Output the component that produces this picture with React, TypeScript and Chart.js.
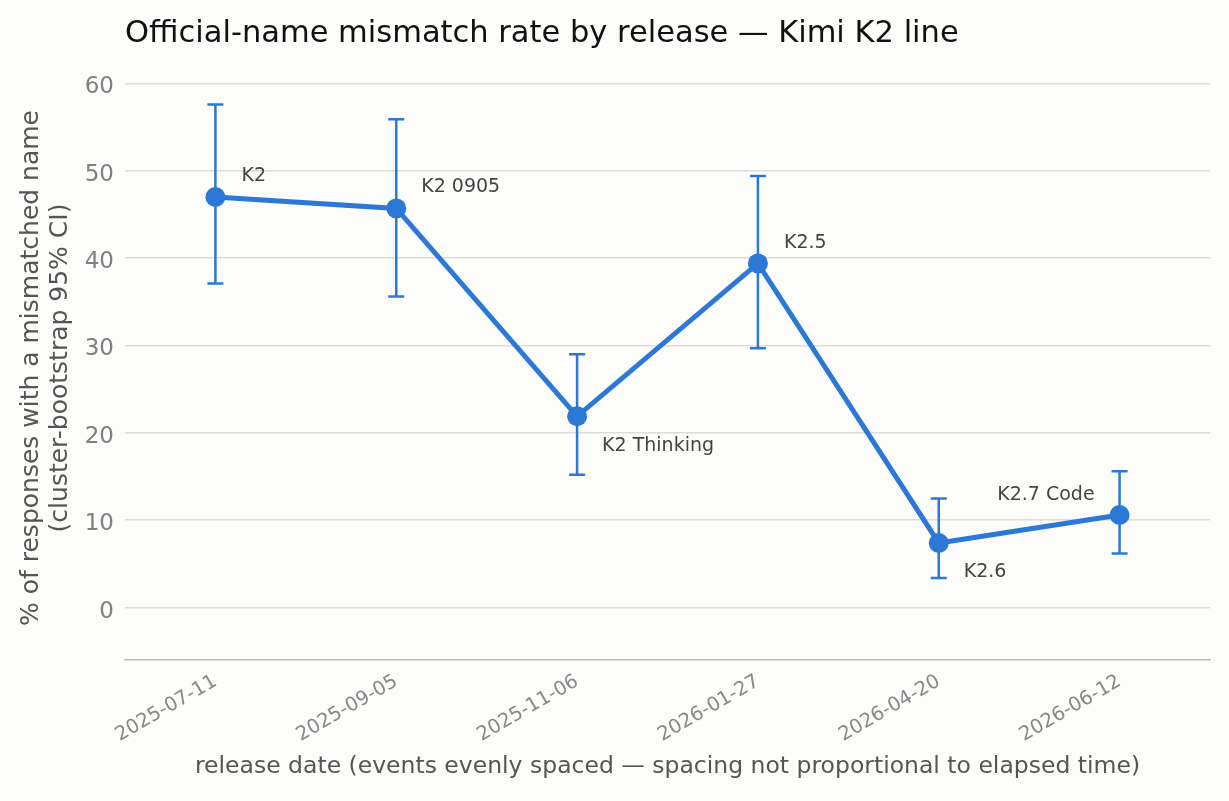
import React, { useEffect, useRef } from 'react';
import Chart from 'chart.js/auto';

// release events, evenly spaced on the x axis
const releaseDates = ['2025-07-11', '2025-09-05', '2025-11-06', '2026-01-27', '2026-04-20', '2026-06-12'];
const modelNames = ['K2', 'K2 0905', 'K2 Thinking', 'K2.5', 'K2.6', 'K2.7 Code'];
// % of responses with a mismatched name, with cluster-bootstrap 95% CI
const mismatchRate = [47.0, 45.7, 21.9, 39.4, 7.4, 10.6];
const ciLow = [37.1, 35.6, 15.2, 29.7, 3.4, 6.2];
const ciHigh = [57.6, 55.9, 29.0, 49.4, 12.5, 15.6];
const yTicks = [0, 10, 20, 30, 40, 50, 60];
const yTitleLines = ['% of responses with a mismatched name', '(cluster-bootstrap 95% CI)'];

const LINE_COLOR = '#2b78d6';
const FONT = 'DejaVu Sans';

// where each point's label sits relative to its marker (px)
const labelOffsets = [
  { dx: 26, dy: -21, align: 'left' },
  { dx: 25, dy: -21, align: 'left' },
  { dx: 25, dy: 30, align: 'left' },
  { dx: 26, dy: -20, align: 'left' },
  { dx: 25, dy: 29, align: 'left' },
  { dx: -25, dy: -20, align: 'right' },
];

const errorBars = {
  id: 'errorBars',
  beforeDatasetsDraw(chart: any) {
    const { ctx, scales } = chart;
    const x = scales.x;
    const y = scales.y;
    ctx.save();
    ctx.strokeStyle = LINE_COLOR;
    ctx.lineWidth = 2.5;
    releaseDates.forEach((_, i) => {
      const px = x.getPixelForValue(i);
      const top = y.getPixelForValue(ciHigh[i]);
      const bot = y.getPixelForValue(ciLow[i]);
      ctx.beginPath();
      ctx.moveTo(px, top);
      ctx.lineTo(px, bot);
      ctx.moveTo(px - 8, top);
      ctx.lineTo(px + 8, top);
      ctx.moveTo(px - 8, bot);
      ctx.lineTo(px + 8, bot);
      ctx.stroke();
    });
    ctx.restore();
  },
};

const pointLabels = {
  id: 'pointLabels',
  afterDatasetsDraw(chart: any) {
    const { ctx, scales } = chart;
    ctx.save();
    ctx.font = `19px "${FONT}"`;
    ctx.fillStyle = '#444444';
    ctx.textBaseline = 'middle';
    modelNames.forEach((name, i) => {
      const off = labelOffsets[i];
      const px = scales.x.getPixelForValue(i);
      const py = scales.y.getPixelForValue(mismatchRate[i]);
      ctx.textAlign = off.align;
      ctx.fillText(name, px + off.dx, py + off.dy);
    });
    ctx.restore();
  },
};

// chart title aligned to the plot's left edge, and the two-line y-axis title
const titles = {
  id: 'titles',
  afterDraw(chart: any) {
    const { ctx, chartArea } = chart;
    ctx.save();
    ctx.font = `30.5px "${FONT}"`;
    ctx.fillStyle = '#111111';
    ctx.textBaseline = 'middle';
    ctx.textAlign = 'left';
    ctx.fillText('Official-name mismatch rate by release — Kimi K2 line', chartArea.left, 34);

    ctx.translate(0, 368);
    ctx.rotate(-Math.PI / 2);
    ctx.font = `25px "${FONT}"`;
    ctx.fillStyle = '#555555';
    ctx.textAlign = 'center';
    ctx.textBaseline = 'alphabetic';
    yTitleLines.forEach((line, i) => {
      ctx.fillText(line, 0, 38 + i * 29);
    });
    ctx.restore();
  },
};

const App: React.FC = () => {
  const canvasRef = useRef<HTMLCanvasElement>(null);
  const chartInstance = useRef<Chart | null>(null);

  useEffect(() => {
    if (!canvasRef.current) return;
    if (chartInstance.current) {
      chartInstance.current.destroy();
    }

    chartInstance.current = new Chart(canvasRef.current, {
      type: 'line',
      data: {
        labels: releaseDates,
        datasets: [
          {
            label: 'mismatch rate',
            data: mismatchRate,
            borderColor: LINE_COLOR,
            backgroundColor: LINE_COLOR,
            borderWidth: 5,
            pointRadius: 10,
            pointHoverRadius: 10,
            pointBorderWidth: 0,
            tension: 0,
            fill: false,
          },
        ],
      },
      options: {
        animation: false,
        responsive: true,
        maintainAspectRatio: false,
        layout: { padding: { top: 66, right: 19, left: 0, bottom: 0 } },
        plugins: {
          legend: { display: false },
          tooltip: { enabled: false },
          title: { display: false },
        },
        scales: {
          x: {
            type: 'category',
            offset: true,
            grid: { display: false, drawTicks: false },
            border: { display: true, color: '#bbbbbb', width: 1.5 },
            ticks: {
              font: { family: FONT, size: 19.5 },
              color: '#888888',
              minRotation: 30,
              maxRotation: 30,
              padding: 10,
            },
            title: {
              display: true,
              text: 'release date (events evenly spaced — spacing not proportional to elapsed time)',
              font: { family: FONT, size: 23.5 },
              color: '#555555',
              padding: { top: 0, bottom: 20 },
            },
            afterFit(scale: any) {
              scale.height = 141;
            },
          },
          y: {
            min: -6,
            max: 62,
            afterBuildTicks(scale: any) {
              scale.ticks = yTicks.map((v) => ({ value: v }));
            },
            grid: { color: '#dcdcda', lineWidth: 1.5, drawTicks: false },
            border: { display: false },
            ticks: {
              font: { family: FONT, size: 23 },
              color: '#808080',
              padding: 11,
              labelOffset: 4,
            },
            afterFit(scale: any) {
              scale.width = 125;
            },
          },
        },
      },
      plugins: [errorBars, pointLabels, titles],
    });

    return () => {
      if (chartInstance.current) {
        chartInstance.current.destroy();
        chartInstance.current = null;
      }
    };
  }, []);

  return (
    <div
      style={{
        position: 'absolute',
        left: 0,
        top: 0,
        width: 1229,
        height: 801,
        background: '#fcfcfa',
      }}
    >
      <canvas ref={canvasRef} />
    </div>
  );
};

export default App;
